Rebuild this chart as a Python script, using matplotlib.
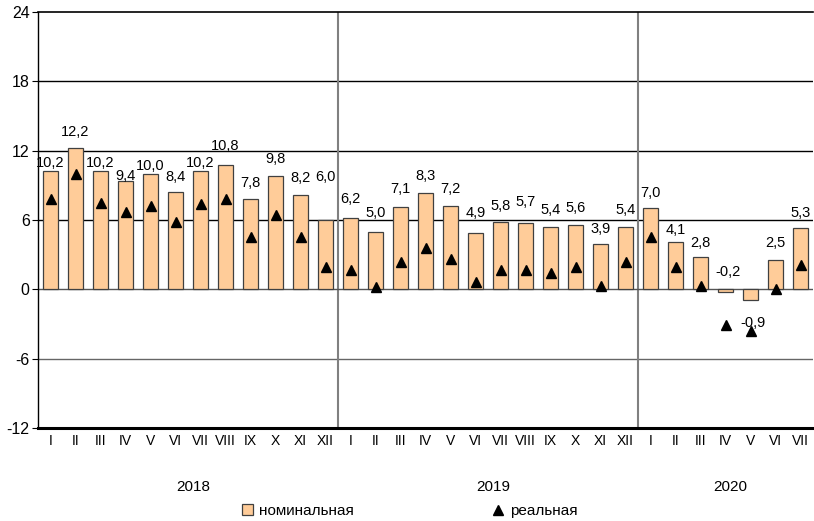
import numpy as np
import matplotlib.pyplot as plt
from matplotlib.lines import Line2D
from matplotlib.patches import Patch

plt.rcParams['font.family'] = ['Liberation Sans', 'DejaVu Sans']
plt.rcParams['axes.unicode_minus'] = False

# months and years
months = ['I', 'II', 'III', 'IV', 'V', 'VI', 'VII', 'VIII', 'IX', 'X', 'XI', 'XII',
          'I', 'II', 'III', 'IV', 'V', 'VI', 'VII', 'VIII', 'IX', 'X', 'XI', 'XII',
          'I', 'II', 'III', 'IV', 'V', 'VI', 'VII']
years = ['2018', '2019', '2020']
year_len = [12, 12, 7]

# nominal wages growth, %
nominal = [10.2, 12.2, 10.2, 9.4, 10.0, 8.4, 10.2, 10.8, 7.8, 9.8, 8.2, 6.0,
           6.2, 5.0, 7.1, 8.3, 7.2, 4.9, 5.8, 5.7, 5.4, 5.6, 3.9, 5.4,
           7.0, 4.1, 2.8, -0.2, -0.9, 2.5, 5.3]
# real wages growth, %
real = [7.8, 10.0, 7.5, 6.7, 7.2, 5.8, 7.4, 7.8, 4.5, 6.4, 4.5, 1.9,
        1.7, 0.2, 2.4, 3.6, 2.6, 0.6, 1.7, 1.7, 1.4, 1.9, 0.3, 2.4,
        4.5, 1.9, 0.3, -3.1, -3.6, 0.0, 2.1]

# where excel left the value labels (y in data units)
label_y = [10.9, 13.6, 10.9, 9.8, 10.7, 9.7, 10.9, 12.4, 9.2, 11.3, 9.6, 9.7,
           7.8, 6.6, 8.7, 9.8, 8.7, 6.6, 7.2, 7.6, 6.9, 7.0, 5.2, 6.9,
           8.3, 5.1, 4.0, 1.5, -2.9, 4.0, 6.6]
label_dx = [0] * 31
label_dx[27] = 0.1
label_dx[28] = 0.1

x = np.arange(len(months))

fig = plt.figure(figsize=(8.14, 5.21), dpi=100)
ax = fig.add_axes([38 / 814, 93 / 521, 775 / 814, 416 / 521])

ax.bar(x, nominal, width=0.58, color='#FFCC99', edgecolor='#404040', linewidth=0.9, zorder=3)
ax.plot(x, real, linestyle='none', marker='^', markersize=7, color='black', zorder=4)

for i in range(len(x)):
    txt = ('%.1f' % nominal[i]).replace('.', ',')
    ax.text(x[i] + label_dx[i], label_y[i], txt, ha='center', va='center', fontsize=10.5, zorder=5)

ax.set_xlim(-0.5, len(x) - 0.5)
ax.set_ylim(-12, 24)
ax.set_yticks([-12, -6, 0, 6, 12, 18, 24])
ax.tick_params(axis='y', labelsize=11.5, length=4, width=0.8, pad=2)
ax.set_xticks([])

# gridlines
for yv in [6, 12, 18]:
    ax.axhline(yv, color='black', linewidth=1.0, zorder=1)
ax.axhline(0, color='#555555', linewidth=1.0, zorder=2)
ax.axhline(-6, color='#666666', linewidth=1.0, zorder=1)

# year separators
pos = -0.5
for n in year_len[:-1]:
    pos += n
    ax.axvline(pos, color='#808080', linewidth=1.5, zorder=1)

ax.spines['right'].set_visible(False)
ax.spines['top'].set_linewidth(1.2)
ax.spines['left'].set_linewidth(1.0)
ax.spines['bottom'].set_linewidth(2.2)

# month labels
narrow = ['Liberation Sans Narrow', 'Liberation Sans', 'DejaVu Sans']
for i, m in enumerate(months):
    ax.text(x[i], -13.1, m, ha='center', va='center', fontsize=10, family=narrow)

# year labels
start = 0
for y_, n in zip(years, year_len):
    ax.text(start + (n - 1) / 2 + 0.2, -17.1, y_, ha='center', va='center', fontsize=11)
    start += n

# legend, two separate entries like in the excel chart
h1 = Patch(facecolor='#FFCC99', edgecolor='#404040', linewidth=0.9)
h2 = Line2D([], [], linestyle='none', marker='^', color='black', markersize=6.5)
fig.legend([h1], ['номинальная'], loc='center left', bbox_to_anchor=(242 / 814, 10 / 521),
           frameon=False, handlelength=0.7, handleheight=0.7, handletextpad=0.4,
           borderpad=0, borderaxespad=0, fontsize=11)
fig.legend([h2], ['реальная'], loc='center left', bbox_to_anchor=(493 / 814, 10 / 521),
           frameon=False, handlelength=0.7, handletextpad=0.4,
           borderpad=0, borderaxespad=0, fontsize=11)

fig.savefig('out.png', dpi=100)
